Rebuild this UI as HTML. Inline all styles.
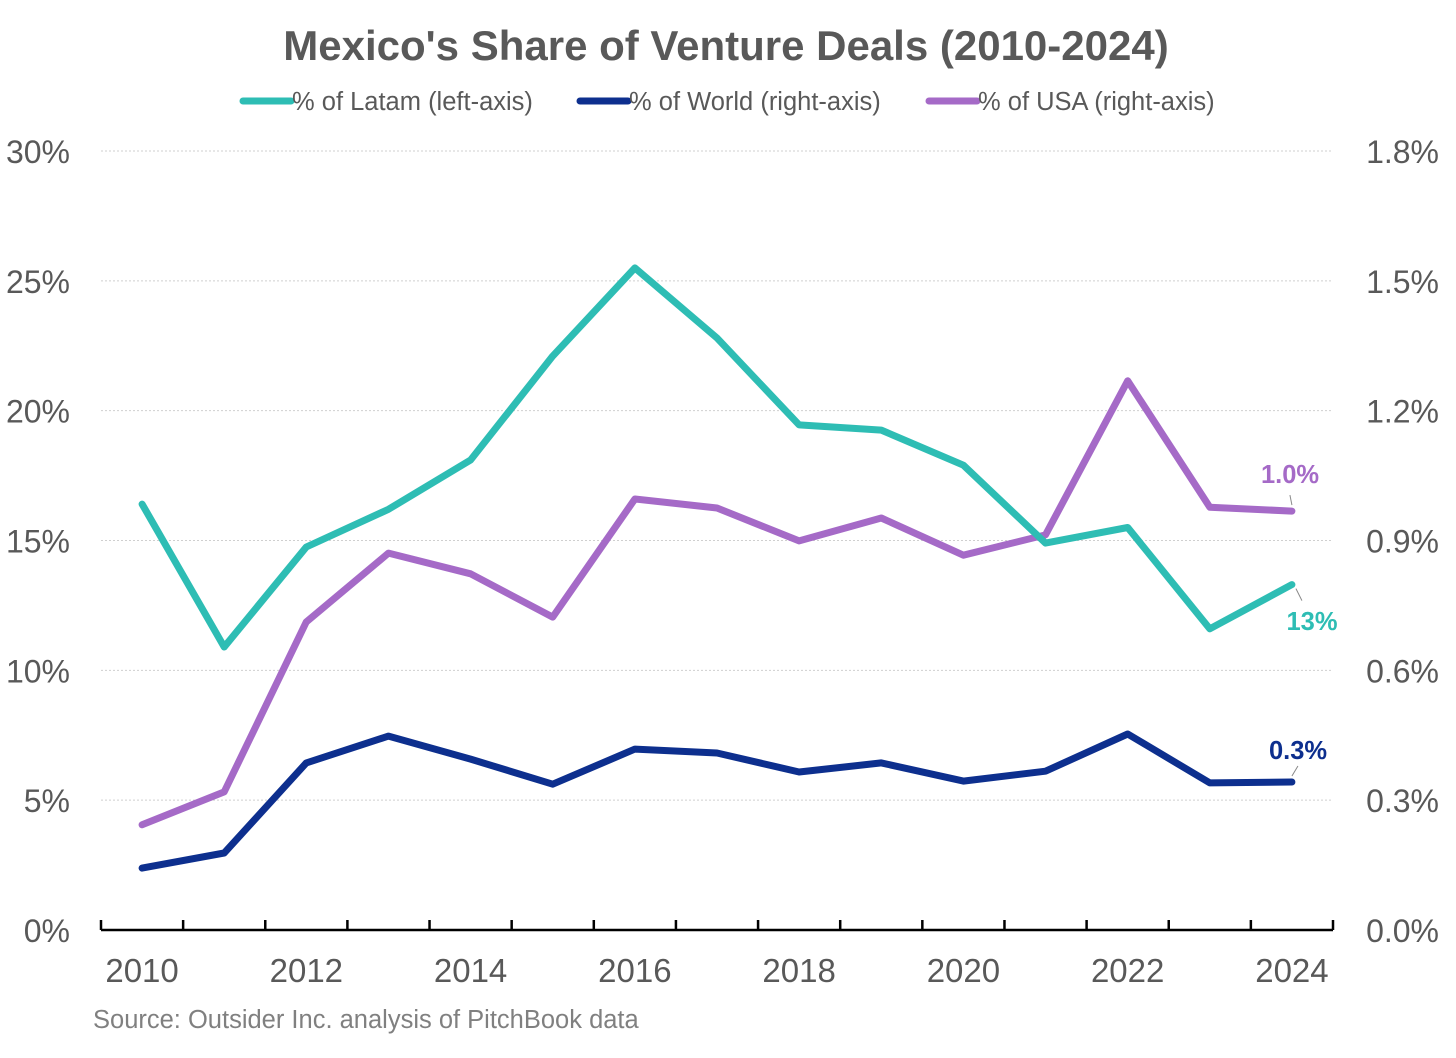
<!DOCTYPE html>
<html><head><meta charset="utf-8"><style>
body{margin:0;background:#fff;}
svg text{font-family:"Liberation Sans",Arial,sans-serif;}
</style></head><body>
<svg id="chart" width="1456" height="1053" xmlns="http://www.w3.org/2000/svg">
<text x="726" y="60" text-anchor="middle" font-size="42" font-weight="bold" fill="#595959">Mexico's Share of Venture Deals (2010-2024)</text>
<g font-size="25.5" fill="#595959">
<g><line x1="243" y1="101" x2="291" y2="101" stroke="#2ebdb4" stroke-width="7" stroke-linecap="round"/><text x="292" y="110">% of Latam (left-axis)</text></g>
<g><line x1="580" y1="101" x2="628" y2="101" stroke="#0d2f8e" stroke-width="7" stroke-linecap="round"/><text x="629" y="110">% of World (right-axis)</text></g>
<g><line x1="929" y1="101" x2="977" y2="101" stroke="#a56ac7" stroke-width="7" stroke-linecap="round"/><text x="978" y="110">% of USA (right-axis)</text></g>
</g>
<g id="grid"></g>
<g id="axes"></g>
<g id="series"></g>
<g id="labels"></g>
<text x="93" y="1028" font-size="25.5" fill="#808080">Source: Outsider Inc. analysis of PitchBook data</text>
</svg>
<script>
const years=[2010,2011,2012,2013,2014,2015,2016,2017,2018,2019,2020,2021,2022,2023,2024];
const latam=[16.4,10.9,14.75,16.2,18.1,22.1,25.5,22.8,19.45,19.25,17.9,14.9,15.5,11.6,13.3];
const world=[0.143,0.178,0.386,0.448,0.395,0.337,0.418,0.409,0.365,0.386,0.344,0.367,0.453,0.340,0.342];
const usa=[0.243,0.319,0.712,0.871,0.823,0.723,0.996,0.975,0.899,0.952,0.866,0.913,1.269,0.977,0.968];
const leftTicks=[0,5,10,15,20,25,30];
const rightTicks=["0.0%","0.3%","0.6%","0.9%","1.2%","1.5%","1.8%"];
const xLabels=[2010,2012,2014,2016,2018,2020,2022,2024];
const NS="http://www.w3.org/2000/svg";
const X0=101,X1=1333,Y0=930,Y1=151;
const step=(X1-X0)/years.length;
const x=i=>X0+step*(i+0.5);
const yL=v=>Y0-(v/30)*(Y0-Y1);
const yR=v=>Y0-(v/1.8)*(Y0-Y1);
function mk(tag,attrs,parent,text){const e=document.createElementNS(NS,tag);for(const k in attrs)e.setAttribute(k,attrs[k]);if(text!==undefined)e.textContent=text;document.getElementById(parent).appendChild(e);return e;}
leftTicks.forEach((t,i)=>{
  const y=yL(t);
  if(t>0){const g=mk('line',{x1:X0,x2:X1,y1:y,y2:y,stroke:'#cfcfcf','stroke-width':1,'stroke-dasharray':'2,2'},'grid');
  
  }
  const a=mk('text',{x:70,y:y+12,'text-anchor':'end','font-size':32,fill:'#595959'},'axes',t+'%');
  
  
  const b=mk('text',{x:1439,y:y+12,'text-anchor':'end','font-size':32,fill:'#595959'},'axes',rightTicks[i]);
  
  
});
const ax=mk('line',{x1:X0,x2:X1,y1:Y0,y2:Y0,stroke:'#000','stroke-width':2.5},'axes');


for(let i=0;i<=years.length;i++){const tk=mk('line',{x1:X0+step*i,x2:X0+step*i,y1:Y0-10,y2:Y0,stroke:'#000','stroke-width':2.5},'axes');

}
xLabels.forEach(yr=>{const i=years.indexOf(yr);const t=mk('text',{x:x(i),y:982,'text-anchor':'middle','font-size':33,fill:'#595959'},'axes',yr);

});
function line(vals,fy,color,name){const d=vals.map((v,i)=>(i?'L':'M')+x(i).toFixed(1)+','+fy(v).toFixed(1)).join('');
const p=mk('path',{d:d,fill:'none',stroke:color,'stroke-width':7,'stroke-linejoin':'round','stroke-linecap':'round'},'series');

}
line(usa,yR,'#a56ac7','usa-line');
line(latam,yL,'#2ebdb4','latam-line');
line(world,yR,'#0d2f8e','world-line');
const n=years.length-1;
function lab(txt,lx,ly,color,px,py,name){
  const l=mk('line',{x1:px,y1:py,x2:px+(lx>px?6:-2),y2:py+(ly>py?12:-10),stroke:'#888','stroke-width':1},'labels');
  
  
  const t=mk('text',{x:lx,y:ly,'text-anchor':'middle','font-size':25.5,'font-weight':'bold',fill:color},'labels',txt);
  
  
}
lab(Math.round(latam[n])+'%',1312,630,'#2ebdb4',x(n)+4,yL(latam[n])+4,'latam-end-label');
lab(usa[n].toFixed(1)+'%',1290,483,'#a56ac7',x(n),yR(usa[n])-6,'usa-end-label');
lab(world[n].toFixed(1)+'%',1298,759,'#0d2f8e',x(n),yR(world[n])-6,'world-end-label');
</script>
</body></html>
